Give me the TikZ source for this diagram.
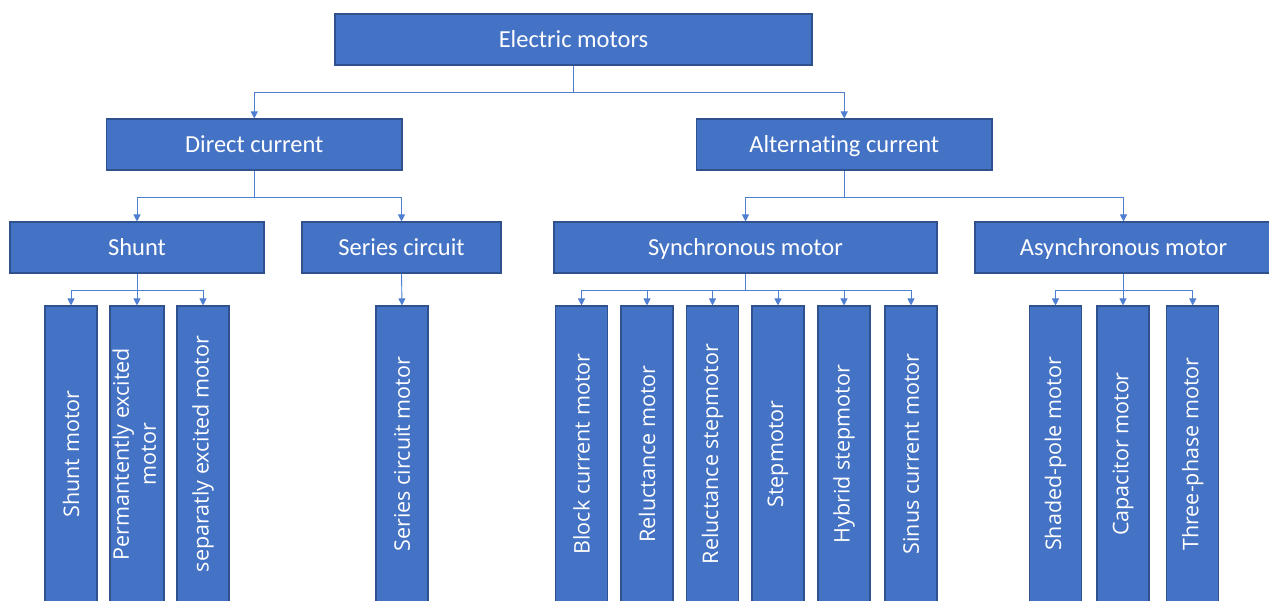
\documentclass[tikz,border=0pt]{standalone}
\usepackage{fontspec}
\setmainfont{Carlito}[Ligatures=NoCommon]
\newfontfamily\vfont{Open Sans}
\usetikzlibrary{arrows.meta}
\definecolor{boxfill}{HTML}{4472C4}
\definecolor{boxline}{HTML}{2F528F}
\definecolor{connc}{HTML}{4F7FD0}
\tikzset{
  hbox/.style={draw=boxline, line width=1.1pt, fill=boxfill, text=white, inner sep=0pt,
    minimum height=51pt, text height=15.8pt, text depth=0pt,
    font=\fontsize{24.5}{28}\selectfont},
  vbox/.style={draw=boxline, line width=1.1pt, fill=boxfill, text=white, inner sep=0pt,
    minimum width=52pt, minimum height=296pt, font=\vfont\fontsize{21.5}{27}\selectfont},
  conn/.style={draw=connc, line width=0.9pt, -{Triangle[width=7pt,length=7pt]}},
  plain/.style={draw=connc, line width=0.9pt}
}
\newcommand{\vtxt}[1]{\rotatebox{90}{\vfont\fontsize{21.5}{27}\selectfont #1}}
\begin{document}
\begin{tikzpicture}[x=1pt,y=-1pt]
\path[use as bounding box, clip] (0,0) rectangle (1269,600);
\fill[white] (0,0) rectangle (1269,600);
% level 0
\node[hbox, minimum width=477pt] (em) at (573.5,39.5) {Electric motors};
% level 1
\node[hbox, minimum width=295.5pt] (dc) at (254.25,144.5) {Direct current};
\node[hbox, minimum width=295.5pt] (ac) at (844.25,144.5) {Alternating current};
% level 2
\node[hbox, minimum width=254pt] (sh) at (137,247.5) {Shunt};
\node[hbox, minimum width=199pt] (se) at (401.5,247.5) {Series circuit};
\node[hbox, minimum width=383pt] (sy) at (745.5,247.5) {Synchronous motor};
\node[hbox, minimum width=297pt] (as) at (1123.5,247.5) {Asynchronous motor};
% level 3
\node[vbox] (shm) at (71,454) {\vtxt{Shunt motor}};
\node[vbox] (pem) at (137,454) {\vtxt{\begin{tabular}{@{}c@{}}Permantently excited\\motor\end{tabular}}};
\node[vbox] (sem) at (203,454) {\vtxt{separatly excited motor}};
\node[vbox] (scm) at (402,454) {\vtxt{Series circuit motor}};
\node[vbox] (bcm) at (581.5,454) {\vtxt{Block current motor}};
\node[vbox] (rem) at (647,454) {\vtxt{Reluctance motor}};
\node[vbox] (rsm) at (712.5,454) {\vtxt{Reluctance stepmotor}};
\node[vbox] (stm) at (778,454) {\vtxt{Stepmotor}};
\node[vbox] (hsm) at (844,454) {\vtxt{Hybrid stepmotor}};
\node[vbox] (sim) at (911,454) {\vtxt{Sinus current motor}};
\node[vbox] (spm) at (1055.5,454) {\vtxt{Shaded-pole motor}};
\node[vbox] (cam) at (1123,454) {\vtxt{Capacitor motor}};
\node[vbox] (tpm) at (1192.7,454) {\vtxt{Three-phase motor}};
% junctions
\coordinate (j0) at (em.south |- 0,92);
\coordinate (j1) at (dc.south |- 0,197);
\coordinate (j2) at (ac.south |- 0,197);
\coordinate (j3) at (sh.south |- 0,290);
\coordinate (j4) at (sy.south |- 0,290);
\coordinate (j5) at (as.south |- 0,290);
% connectors
\draw[plain] (em.south) -- (j0);
\draw[conn] (j0) -| (dc.north);
\draw[conn] (j0) -| (ac.north);
\draw[plain] (dc.south) -- (j1);
\draw[conn] (j1) -| (sh.north);
\draw[conn] (j1) -| (se.north);
\draw[plain] (ac.south) -- (j2);
\draw[conn] (j2) -| (sy.north);
\draw[conn] (j2) -| (as.north);
\draw[plain] (sh.south) -- (j3);
\draw[conn] (j3) -| (shm.north);
\draw[conn] (j3) -| (pem.north);
\draw[conn] (j3) -| (sem.north);
\draw[conn] (se.south) -- (scm.north);
\draw[plain] (sy.south) -- (j4);
\draw[conn] (j4) -| (bcm.north);
\draw[conn] (j4) -| (rem.north);
\draw[conn] (j4) -| (rsm.north);
\draw[conn] (j4) -| (stm.north);
\draw[conn] (j4) -| (hsm.north);
\draw[conn] (j4) -| (sim.north);
\draw[plain] (as.south) -- (j5);
\draw[conn] (j5) -| (spm.north);
\draw[conn] (j5) -| (cam.north);
\draw[conn] (j5) -| (tpm.north);
\end{tikzpicture}
\end{document}
